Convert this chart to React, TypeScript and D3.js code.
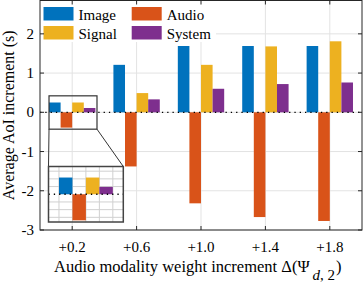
import React from "react";
import * as d3 from "d3";

const categories = ["+0.2", "+0.6", "+1.0", "+1.4", "+1.8"];
const seriesNames = ["Image", "Audio", "Signal", "System"];
const imageVals = [0.25, 1.21, 1.69, 1.69, 1.69];
const audioVals = [-0.39, -1.38, -2.32, -2.67, -2.77];
const signalVals = [0.25, 0.49, 1.21, 1.68, 1.81];
const systemVals = [0.11, 0.33, 0.6, 0.72, 0.76];
const colors = ["#0072BD", "#D95319", "#EDB120", "#7E2F8E"];
const yTicks = [-3, -2, -1, 0, 1, 2];
const insetYGrid = [-0.345, -0.23, -0.115, 0.115, 0.23, 0.345];
const insetXGrid = [0.64, 0.82, 1.0, 1.18, 1.36];

const W = 364;
const H = 285;
const L = 40, R = 362, T = 0.5, B = 230;
const FONT = "Liberation Serif";

export default function App() {
  const series = [imageVals, audioVals, signalVals, systemVals];
  const x = d3.scaleLinear().domain([0.5, 5.5]).range([L, R]);
  const y = d3.scaleLinear().domain([-3, 2.85]).range([B, T]);
  const bw = 0.18;
  const offs = [-1.5, -0.5, 0.5, 1.5];

  const iL = 48.5, iR = 123.3, iT = 166.5, iB = 222;
  const ix = d3.scaleLinear().domain([0.5, 1.5]).range([iL, iR]);
  const iy = d3.scaleLinear().domain([-0.415, 0.415]).range([iB, iT]);
  const zx0 = 0.64, zx1 = 1.385, zy0 = -0.43, zy1 = 0.42;

  const grid = "#e3e3e3";
  const axisC = "#262626";

  return (
    <svg width={W} height={H} style={{ position: "absolute", left: 0, top: 0, background: "#fff" }}>
      {yTicks.map((t) => (
        <line key={"gy" + t} x1={L} x2={R} y1={y(t)} y2={y(t)} stroke={grid} strokeWidth={1} />
      ))}
      {categories.map((c, i) => (
        <line key={"gx" + c} x1={x(i + 1)} x2={x(i + 1)} y1={T} y2={B} stroke={grid} strokeWidth={1} />
      ))}
      {series.map((vals, s) =>
        vals.map((v, i) => {
          const cx = i + 1 + offs[s] * bw;
          const x0 = x(cx - bw / 2);
          const x1 = x(cx + bw / 2);
          return (
            <rect key={s + "-" + i} x={x0} width={x1 - x0} y={Math.min(y(v), y(0))}
              height={Math.abs(y(v) - y(0))} fill={colors[s]} />
          );
        })
      )}
      <line x1={L} x2={R} y1={y(0)} y2={y(0)} stroke="#000" strokeWidth={1.3} strokeDasharray="1.3 4" />
      <rect x={41} y={1} width={175} height={41} fill="#fff" />
      {seriesNames.map((n, k) => {
        const col = k % 2;
        const row = Math.floor(k / 2);
        const px = col === 0 ? 43.5 : 131.7;
        const py = row === 0 ? 7 : 26;
        return (
          <g key={n}>
            <rect x={px} y={py} width={30} height={13.5} fill={colors[k]} />
            <text x={px + 35} y={py + 12.5} fontSize={15} fill="#000" fontFamily={FONT}>{n}</text>
          </g>
        );
      })}
      <rect x={L} y={T} width={R - L} height={B - T} fill="none" stroke={axisC} strokeWidth={1} />
      {yTicks.map((t) => (
        <g key={"yt" + t}>
          <line x1={L} x2={L + 4} y1={y(t)} y2={y(t)} stroke={axisC} />
          <line x1={R - 4} x2={R} y1={y(t)} y2={y(t)} stroke={axisC} />
          <text x={34} y={y(t) + 5} textAnchor="end" fontSize={15} fill="#000" fontFamily={FONT}>{t}</text>
        </g>
      ))}
      {categories.map((c, i) => (
        <g key={"xt" + c}>
          <line x1={x(i + 1)} x2={x(i + 1)} y1={B} y2={B - 4} stroke={axisC} />
          <line x1={x(i + 1)} x2={x(i + 1)} y1={T} y2={T + 4} stroke={axisC} />
          <text x={x(i + 1)} y={252} textAnchor="middle" fontSize={15} fill="#000" fontFamily={FONT}>{c}</text>
        </g>
      ))}
      <rect x={x(zx0)} y={y(zy1)} width={x(zx1) - x(zx0)} height={y(zy0) - y(zy1)} fill="none" stroke="#333" strokeWidth={1.2} />
      <line x1={x(zx0)} y1={y(zy0)} x2={iL} y2={iT} stroke="#333" strokeWidth={1} />
      <line x1={x(zx1)} y1={y(zy0)} x2={iR} y2={iT} stroke="#333" strokeWidth={1} />
      <rect x={iL} y={iT} width={iR - iL} height={iB - iT} fill="#fff" />
      {insetYGrid.map((t) => (
        <line key={"iy" + t} x1={iL} x2={iR} y1={iy(t)} y2={iy(t)} stroke="#d0d0d0" strokeWidth={1} />
      ))}
      {insetXGrid.map((t) => (
        <line key={"ix" + t} x1={ix(t)} x2={ix(t)} y1={iT} y2={iB} stroke="#d0d0d0" strokeWidth={1} />
      ))}
      {series.map((vals, s) => {
        const v = vals[0];
        const cx = 1 + offs[s] * bw;
        const x0 = ix(cx - bw / 2);
        const x1 = ix(cx + bw / 2);
        return (
          <rect key={"in" + s} x={x0} width={x1 - x0} y={Math.min(iy(v), iy(0))}
            height={Math.abs(iy(v) - iy(0))} fill={colors[s]} />
        );
      })}
      <line x1={iL} x2={iR} y1={iy(0)} y2={iy(0)} stroke="#000" strokeWidth={1.3} strokeDasharray="1.3 4" />
      <rect x={iL} y={iT} width={iR - iL} height={iB - iT} fill="none" stroke="#444" strokeWidth={1.5} />
      <text transform={`translate(13.5,${(T + B) / 2}) rotate(-90)`} textAnchor="middle" fontSize={16} fill="#000" fontFamily={FONT}>
        Average AoI increment (s)
      </text>
      <text x={54} y={272} fontSize={16.5} fill="#000" fontFamily={FONT}>
        Audio modality weight increment Δ(Ψ
        <tspan dy={8} dx={3} fontSize={15}><tspan fontStyle="italic">d</tspan>, 2</tspan>
        <tspan dy={-8} dx={1}>)</tspan>
      </text>
    </svg>
  );
}
